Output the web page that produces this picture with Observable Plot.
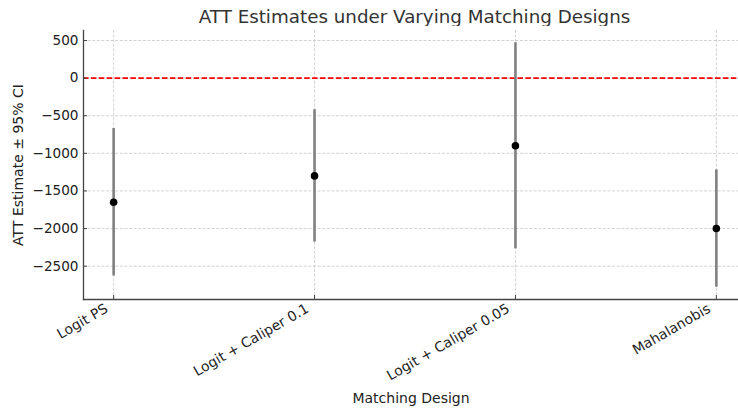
<!DOCTYPE html>
<html>
<head>
<meta charset="utf-8">
<script src="https://cdn.jsdelivr.net/npm/d3@7"></script>
<script src="https://cdn.jsdelivr.net/npm/@observablehq/plot@0.6"></script>
<style>
  html, body { margin: 0; padding: 0; background: #fff; }
  #wrap { position: relative; width: 738px; height: 412px; overflow: hidden; font-family: "DejaVu Sans", sans-serif; }
  #title { position: absolute; left: 83px; width: 663px; top: 8px; height: 18px; line-height: 18px; font-size: 18.3px; color: #333; text-align: center; white-space: nowrap; }
  #chart { position: absolute; left: 0; top: 26px; }
  #chart svg g { font-size: 13.6px; }
  #chart svg g[aria-label="x-axis tick label"] { font-size: 13.9px; }
  #chart svg g[aria-label="x-axis label"], #chart svg g[aria-label="y-axis label"] { font-size: 14px; }
</style>
</head>
<body>
<div id="wrap">
  <div id="title">ATT Estimates under Varying Matching Designs</div>
  <div id="chart"></div>
</div>
<script>
const designs = ["Logit PS", "Logit + Caliper 0.1", "Logit + Caliper 0.05", "Mahalanobis"];
const estimates = [-1650, -1300, -900, -2000];
const ciLower = [-2630, -2180, -2270, -2780];
const ciUpper = [-670, -420, 470, -1220];
const yTicks = [500, 0, -500, -1000, -1500, -2000, -2500];
const refLine = [0];

const data = designs.map((d, i) => ({design: d, est: estimates[i], lo: ciLower[i], hi: ciUpper[i]}));

const plot = Plot.plot({
  width: 738,
  height: 386,
  marginLeft: 83,
  marginRight: 0,
  marginTop: 4,
  marginBottom: 113,
  style: {fontFamily: "DejaVu Sans, sans-serif", color: "#222", background: "#fff", overflow: "hidden"},
  x: {type: "point", domain: designs, range: [83, 746], padding: 0.15, round: false},
  y: {domain: [-2943, 633]},
  marks: [
    Plot.gridY(yTicks, {stroke: "#c8c8c8", strokeOpacity: 1, strokeWidth: 0.8, strokeDasharray: "3,1.6"}),
    Plot.gridX(designs, {stroke: "#c8c8c8", strokeOpacity: 1, strokeWidth: 0.8, strokeDasharray: "3,1.6"}),
    Plot.ruleY(refLine, {stroke: "#ff0000", strokeWidth: 1.6, strokeDasharray: "5.5,2.4"}),
    Plot.ruleX(data, {x: "design", y1: "lo", y2: "hi", stroke: "#808080", strokeWidth: 2.6}),
    Plot.dot(data, {x: "design", y: "est", fill: "#000", stroke: "none", r: 3.8}),
    Plot.frame({anchor: "left", stroke: "#444", strokeWidth: 1.3}),
    Plot.frame({anchor: "bottom", stroke: "#444", strokeWidth: 1.3}),
    Plot.axisY(yTicks, {anchor: "left", tickSize: -4, tickPadding: 9, stroke: "#444", fill: "#222", tickFormat: d3.format("d"),
      label: "ATT Estimate ± 95% CI", labelAnchor: "center", labelArrow: "none", labelOffset: 70}),
    Plot.axisX(designs, {anchor: "bottom", tickSize: -4, stroke: "#444", text: null, label: null}),
    Plot.axisX(designs, {anchor: "bottom", tickSize: 0, tickPadding: 6, tickRotate: -30, fill: "#222", dx: -7, dy: 2,
      label: "Matching Design", labelAnchor: "center", labelArrow: "none", labelOffset: 103})
  ]
});
document.getElementById("chart").appendChild(plot);
</script>
</body>
</html>
